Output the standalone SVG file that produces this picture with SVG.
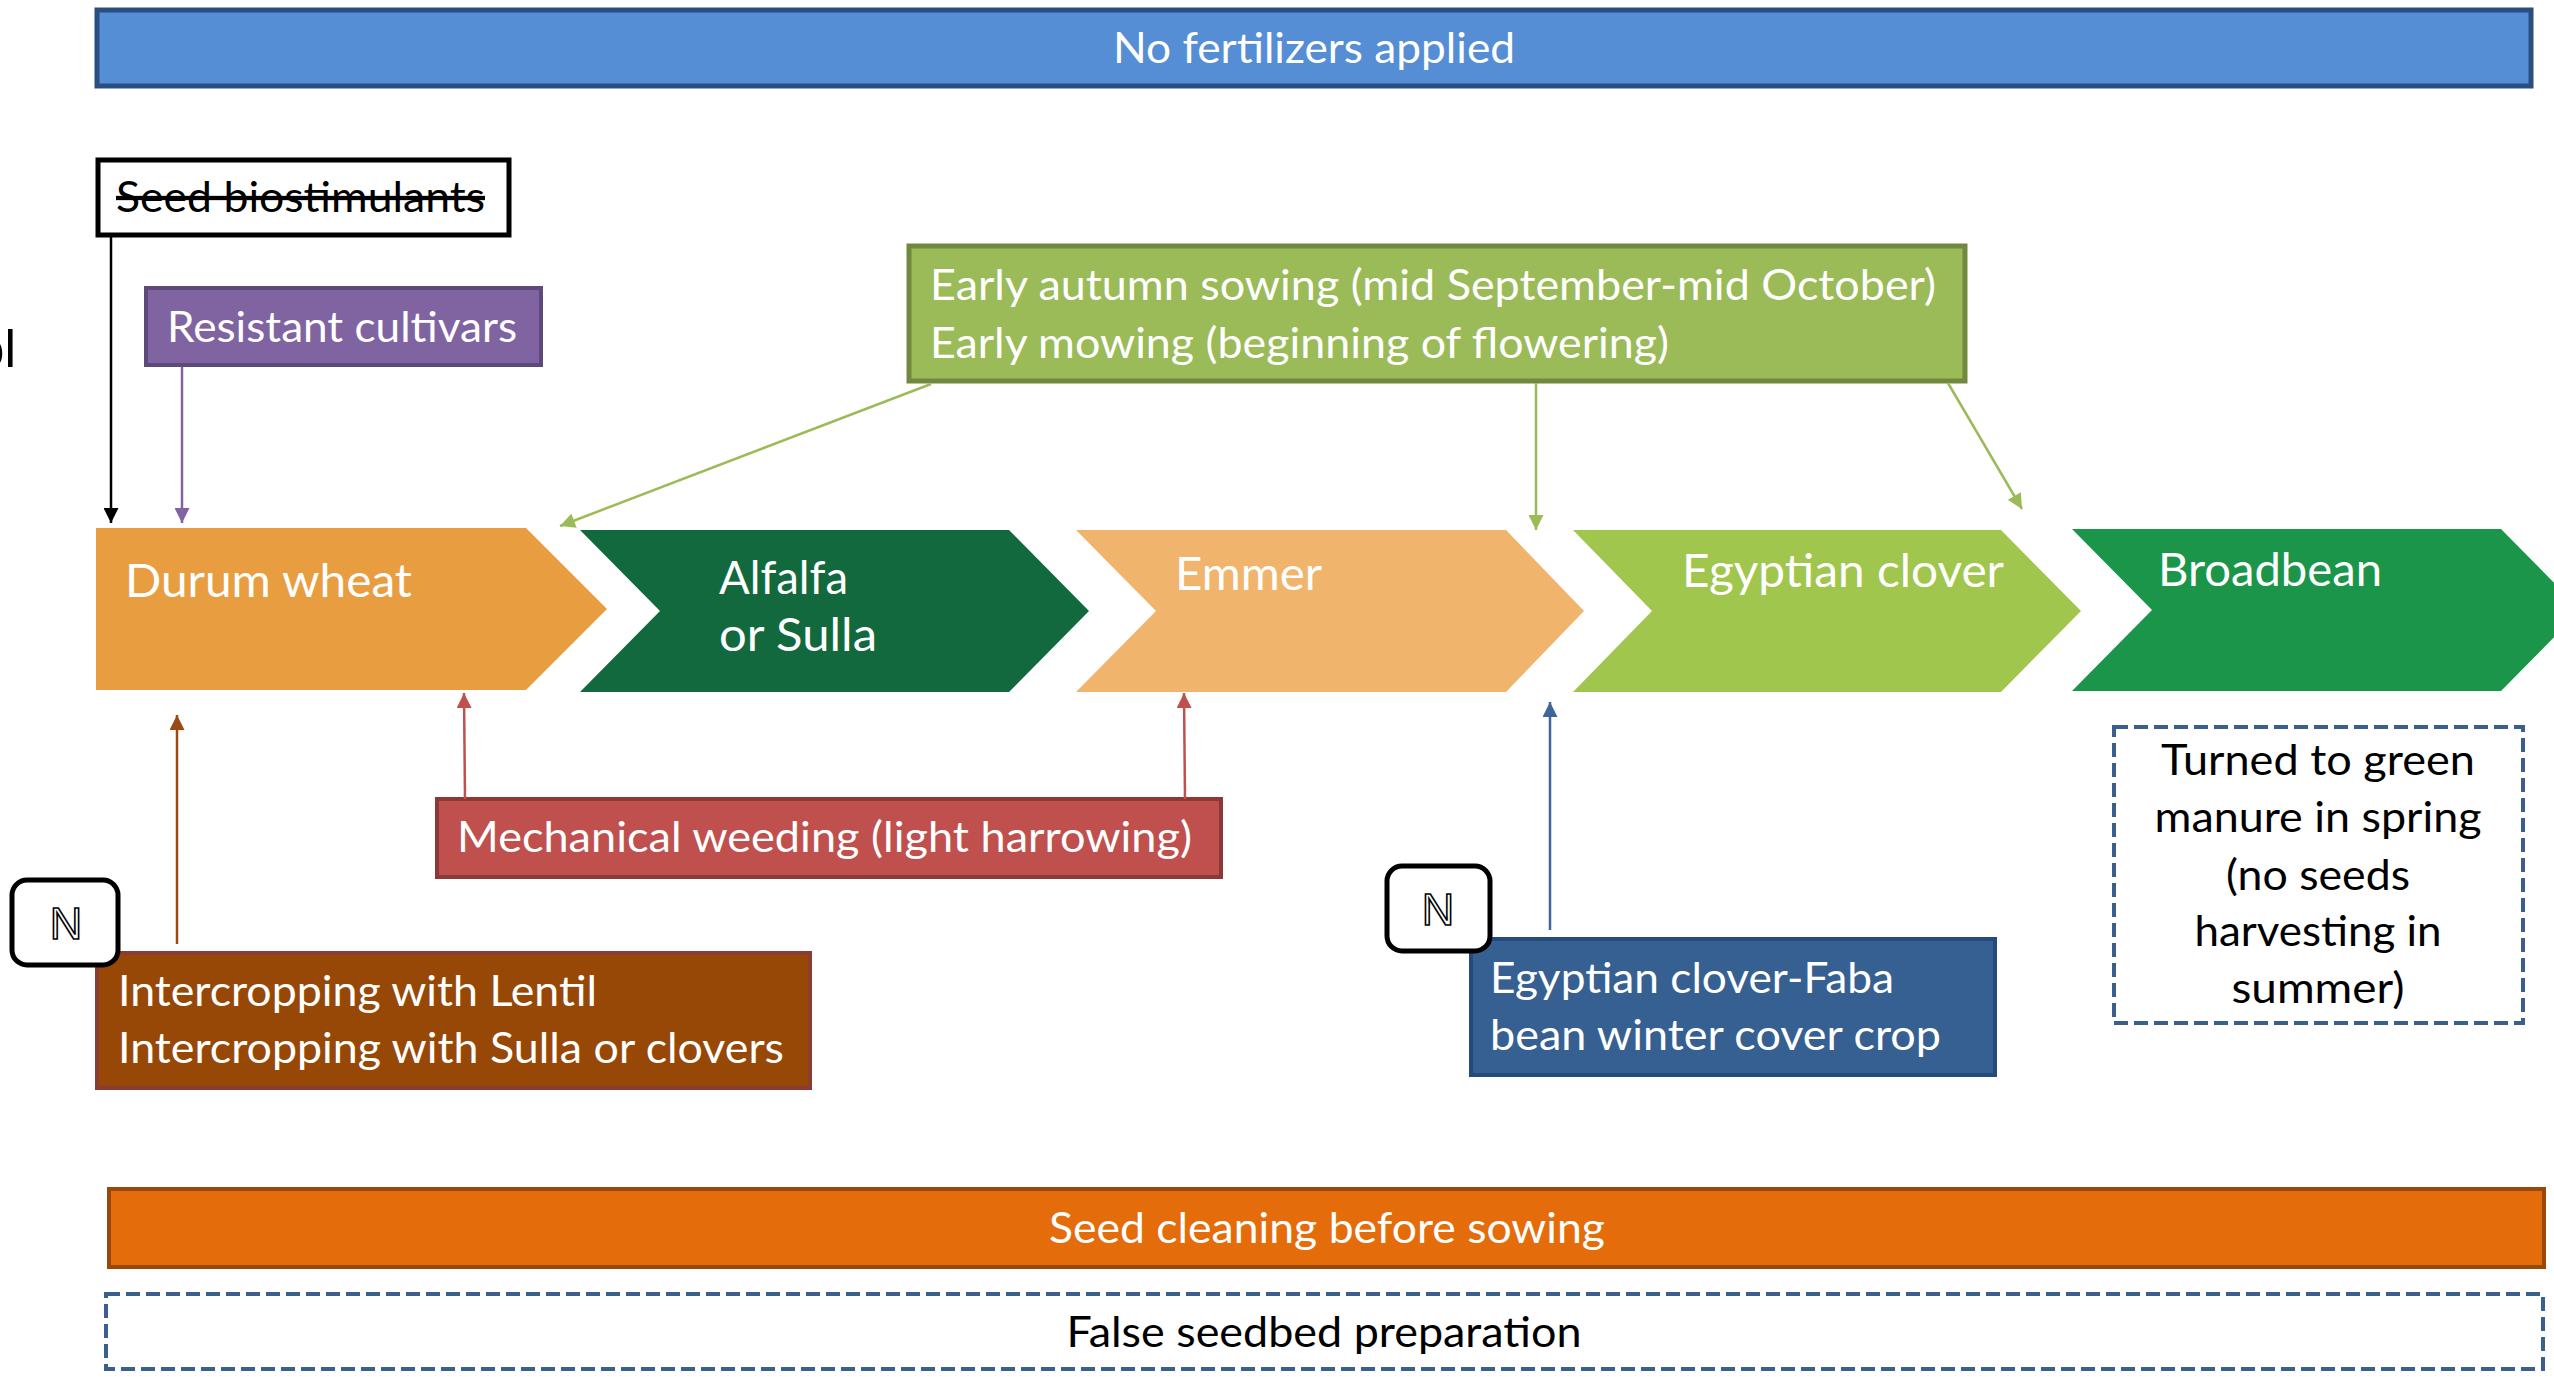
<svg xmlns="http://www.w3.org/2000/svg" width="2554" height="1377" viewBox="0 0 2554 1377">
<style>
.t{font-family:Lato,"Open Sans","Liberation Sans",sans-serif;font-size:43px;fill:#fff}
.k{fill:#000}
.big{font-size:47px}
.nl{font-family:"Liberation Sans",Arial,sans-serif;font-size:45px;fill:#fff;stroke:#000;stroke-width:1.6;text-anchor:middle}
.nb{fill:#fff;stroke:#000;stroke-width:5}
.dash{fill:#fff;stroke:#3A5F8F;stroke-width:4;stroke-dasharray:14 6}
.c{fill:none;stroke-width:2.5}
</style>
<defs>
<marker id="ah-k" viewBox="0 0 10 10" refX="10" refY="5" markerWidth="16" markerHeight="15" markerUnits="userSpaceOnUse" orient="auto"><path d="M0,0L10,5L0,10z" fill="#000"/></marker>
<marker id="ah-p" viewBox="0 0 10 10" refX="10" refY="5" markerWidth="16" markerHeight="15" markerUnits="userSpaceOnUse" orient="auto"><path d="M0,0L10,5L0,10z" fill="#8064A2"/></marker>
<marker id="ah-g" viewBox="0 0 10 10" refX="10" refY="5" markerWidth="16" markerHeight="15" markerUnits="userSpaceOnUse" orient="auto"><path d="M0,0L10,5L0,10z" fill="#9BBB59"/></marker>
<marker id="ah-br" viewBox="0 0 10 10" refX="10" refY="5" markerWidth="16" markerHeight="15" markerUnits="userSpaceOnUse" orient="auto"><path d="M0,0L10,5L0,10z" fill="#9A4A12"/></marker>
<marker id="ah-r" viewBox="0 0 10 10" refX="10" refY="5" markerWidth="16" markerHeight="15" markerUnits="userSpaceOnUse" orient="auto"><path d="M0,0L10,5L0,10z" fill="#C0504D"/></marker>
<marker id="ah-b" viewBox="0 0 10 10" refX="10" refY="5" markerWidth="16" markerHeight="15" markerUnits="userSpaceOnUse" orient="auto"><path d="M0,0L10,5L0,10z" fill="#3F6599"/></marker>
</defs>
<rect width="2554" height="1377" fill="#fff"/>

<text x="16" y="367" font-family="Liberation Sans, Arial, sans-serif" font-size="52" text-anchor="end" fill="#000">ol</text>

<g id="no-fertilizers">
<rect x="97" y="10" width="2434" height="76" fill="#558ED5" stroke="#294E80" stroke-width="5"/>
<text class="t" x="1314" y="63" text-anchor="middle" textLength="402" lengthAdjust="spacingAndGlyphs">No fertilizers applied</text>
</g>

<g id="seed-biostimulants">
<rect x="98" y="160" width="411" height="75" fill="#fff" stroke="#000" stroke-width="5"/>
<text class="t k" x="116" y="212" text-decoration="line-through" textLength="369" lengthAdjust="spacingAndGlyphs">Seed biostimulants</text>
</g>

<g id="resistant-cultivars">
<rect x="146" y="288" width="395" height="77" fill="#8064A2" stroke="#5C4A7A" stroke-width="4"/>
<text class="t" x="167" y="342" textLength="350" lengthAdjust="spacingAndGlyphs">Resistant cultivars</text>
</g>

<g id="early-sowing">
<rect x="909" y="246" width="1056" height="135" fill="#9BBB59" stroke="#71893F" stroke-width="5"/>
<text class="t" x="930" y="300" textLength="1006" lengthAdjust="spacingAndGlyphs">Early autumn sowing (mid September-mid October)</text>
<text class="t" x="930" y="358" textLength="739" lengthAdjust="spacingAndGlyphs">Early mowing (beginning of flowering)</text>
</g>

<g id="durum-wheat">
<path d="M96,528L526,528L607,609L526,690L96,690Z" fill="#E89D41"/>
<text class="t big" x="125" y="597" textLength="287" lengthAdjust="spacingAndGlyphs">Durum wheat</text>
</g>
<g id="alfalfa">
<path d="M580,530L1009,530L1089,611L1009,692L580,692L660,611Z" fill="#12693D"/>
<text class="t big" x="719" y="594" textLength="129" lengthAdjust="spacingAndGlyphs">Alfalfa</text>
<text class="t big" x="719" y="651" textLength="158" lengthAdjust="spacingAndGlyphs">or Sulla</text>
</g>
<g id="emmer">
<path d="M1076,530L1506,530L1584,611L1506,692L1076,692L1156,611Z" fill="#F0B46C"/>
<text class="t big" x="1175" y="590" textLength="147" lengthAdjust="spacingAndGlyphs">Emmer</text>
</g>
<g id="egyptian-clover">
<path d="M1573,530L2001,530L2081,611L2001,692L1573,692L1652,611Z" fill="#A0C64E"/>
<text class="t big" x="1682" y="587" textLength="322" lengthAdjust="spacingAndGlyphs">Egyptian clover</text>
</g>
<g id="broadbean">
<path d="M2072,529L2501,529L2581,610L2501,691L2072,691L2152,610Z" fill="#1B954A"/>
<text class="t big" x="2158" y="586" textLength="224" lengthAdjust="spacingAndGlyphs">Broadbean</text>
</g>

<g id="green-manure">
<rect x="2114" y="727" width="409" height="296" class="dash"/>
<g class="t k" text-anchor="middle">
<text x="2318" y="775" textLength="314" lengthAdjust="spacingAndGlyphs">Turned to green</text>
<text x="2318" y="832" textLength="327" lengthAdjust="spacingAndGlyphs">manure in spring</text>
<text x="2318" y="890" textLength="184" lengthAdjust="spacingAndGlyphs">(no seeds</text>
<text x="2318" y="946" textLength="247" lengthAdjust="spacingAndGlyphs">harvesting in</text>
<text x="2318" y="1003" textLength="173" lengthAdjust="spacingAndGlyphs">summer)</text>
</g>
</g>

<g id="mechanical-weeding">
<rect x="437" y="799" width="784" height="78" fill="#C0504D" stroke="#8C3836" stroke-width="4"/>
<text class="t" x="457" y="852" textLength="735" lengthAdjust="spacingAndGlyphs">Mechanical weeding (light harrowing)</text>
</g>

<g id="intercropping">
<rect x="97" y="953" width="713" height="135" fill="#974806" stroke="#8A3B32" stroke-width="4"/>
<text class="t" x="118" y="1006" textLength="479" lengthAdjust="spacingAndGlyphs">Intercropping with Lentil</text>
<text class="t" x="118" y="1063" textLength="666" lengthAdjust="spacingAndGlyphs">Intercropping with Sulla or clovers</text>
</g>
<g id="n-badge-1">
<rect x="12" y="880" width="106" height="85" rx="15" class="nb"/>
<text class="nl" x="66" y="939">N</text>
</g>

<g id="cover-crop">
<rect x="1471" y="939" width="524" height="136" fill="#376092" stroke="#254A7C" stroke-width="4"/>
<text class="t" x="1490" y="993" textLength="404" lengthAdjust="spacingAndGlyphs">Egyptian clover-Faba</text>
<text class="t" x="1490" y="1050" textLength="451" lengthAdjust="spacingAndGlyphs">bean winter cover crop</text>
</g>
<g id="n-badge-2">
<rect x="1387" y="866" width="103" height="85" rx="15" class="nb"/>
<text class="nl" x="1438" y="925">N</text>
</g>

<g id="seed-cleaning">
<rect x="109" y="1189" width="2435" height="78" fill="#E46C0A" stroke="#984807" stroke-width="4"/>
<text class="t" x="1327" y="1243" text-anchor="middle" textLength="556" lengthAdjust="spacingAndGlyphs">Seed cleaning before sowing</text>
</g>
<g id="false-seedbed">
<rect x="106" y="1294" width="2437" height="75" class="dash"/>
<text class="t k" x="1324" y="1347" text-anchor="middle" textLength="515" lengthAdjust="spacingAndGlyphs">False seedbed preparation</text>
</g>

<g id="connectors">
<line class="c" x1="111" y1="236" x2="111" y2="523" stroke="#000" marker-end="url(#ah-k)"/>
<line class="c" x1="182" y1="367" x2="182" y2="523" stroke="#8064A2" stroke-width="2" marker-end="url(#ah-p)"/>
<line class="c" x1="931" y1="384" x2="560" y2="526" stroke="#9BBB59" marker-end="url(#ah-g)"/>
<line class="c" x1="1536" y1="383" x2="1536" y2="530" stroke="#9BBB59" marker-end="url(#ah-g)"/>
<line class="c" x1="1948" y1="383" x2="2022" y2="509" stroke="#9BBB59" marker-end="url(#ah-g)"/>
<line class="c" x1="177" y1="944" x2="177" y2="715" stroke="#9A4A12" marker-end="url(#ah-br)"/>
<line class="c" x1="465" y1="799" x2="464" y2="693" stroke="#C0504D" marker-end="url(#ah-r)"/>
<line class="c" x1="1185" y1="799" x2="1184" y2="693" stroke="#C0504D" marker-end="url(#ah-r)"/>
<line class="c" x1="1550" y1="930" x2="1550" y2="702" stroke="#3F6599" marker-end="url(#ah-b)"/>
</g>
</svg>
